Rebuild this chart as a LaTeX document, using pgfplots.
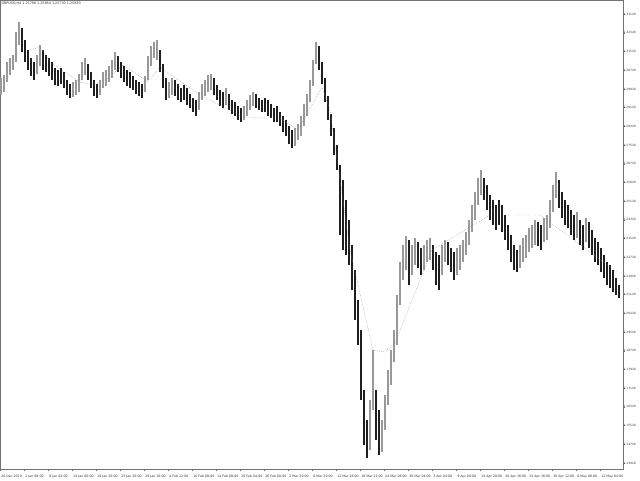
\documentclass[border=0pt]{standalone}
\usepackage{pgfplots}
\usepackage{pgfplotstable}
\usepackage{fontspec}
\setmainfont{DejaVu Sans}
\pgfplotsset{compat=1.18}

\pgfplotstableread{
x hi lo c
1 1.3039 1.2966 0
4 1.3052 1.2979 0
7 1.3107 1.3022 0
10 1.3125 1.3052 0
13 1.3137 1.3073 0
16 1.3236 1.3107 0
19 1.3279 1.3180 0
22 1.3253 1.3150 1
25 1.3202 1.3107 1
28 1.3159 1.3073 1
31 1.3125 1.3048 1
34 1.3107 1.3030 1
37 1.3137 1.3056 0
40 1.3180 1.3090 0
43 1.3159 1.3073 1
46 1.3137 1.3065 1
49 1.3125 1.3048 1
52 1.3107 1.3030 1
55 1.3082 1.3009 1
58 1.3073 1.3005 1
61 1.3082 1.3013 1
64 1.3065 1.2996 1
67 1.3030 1.2966 1
70 1.3013 1.2954 1
73 1.3022 1.2958 0
76 1.3030 1.2966 0
79 1.3056 1.2979 0
82 1.3107 1.3030 0
85 1.3125 1.3052 0
88 1.3099 1.3030 1
91 1.3065 1.2996 1
94 1.3030 1.2962 1
97 1.3013 1.2954 1
100 1.3030 1.2966 0
103 1.3065 1.2996 0
106 1.3073 1.3005 0
109 1.3090 1.3022 0
112 1.3116 1.3039 0
115 1.3150 1.3073 0
118 1.3133 1.3065 1
121 1.3107 1.3039 1
124 1.3090 1.3022 1
127 1.3073 1.3005 1
130 1.3065 1.2996 1
133 1.3048 1.2988 1
136 1.3030 1.2971 1
139 1.3022 1.2962 1
142 1.3013 1.2954 1
145 1.3048 1.2979 0
148 1.3133 1.3030 0
151 1.3176 1.3090 0
154 1.3193 1.3125 0
157 1.3202 1.3116 0
160 1.3159 1.3065 1
163 1.3099 1.2996 1
166 1.3039 1.2945 1
169 1.3022 1.2954 0
172 1.3039 1.2966 0
175 1.3030 1.2962 1
178 1.3013 1.2945 1
181 1.2996 1.2936 1
184 1.3009 1.2945 1
187 1.2996 1.2924 1
190 1.2971 1.2911 1
193 1.2954 1.2894 1
196 1.2945 1.2876 1
199 1.2979 1.2902 0
202 1.3013 1.2945 0
205 1.3030 1.2962 0
208 1.3052 1.2979 0
211 1.3056 1.2988 0
214 1.3039 1.2966 1
217 1.3009 1.2945 1
220 1.2988 1.2919 1
223 1.2979 1.2911 1
226 1.2996 1.2924 0
229 1.2971 1.2902 1
232 1.2945 1.2885 1
235 1.2936 1.2876 1
238 1.2919 1.2859 1
241 1.2911 1.2851 1
244 1.2919 1.2859 0
247 1.2945 1.2876 0
250 1.2966 1.2902 0
253 1.2979 1.2919 0
256 1.2971 1.2911 1
259 1.2954 1.2902 1
262 1.2945 1.2894 1
265 1.2954 1.2894 1
268 1.2945 1.2876 1
271 1.2928 1.2868 1
274 1.2911 1.2851 1
277 1.2919 1.2851 1
280 1.2894 1.2834 1
283 1.2876 1.2808 1
286 1.2859 1.2791 1
289 1.2834 1.2756 1
292 1.2817 1.2740 1
295 1.2825 1.2748 0
298 1.2842 1.2774 0
301 1.2876 1.2791 0
304 1.2928 1.2834 0
307 1.2971 1.2876 0
310 1.3030 1.2936 0
313 1.3116 1.3005 0
316 1.3193 1.3099 0
319 1.3176 1.3073 1
322 1.3107 1.3013 1
325 1.3039 1.2936 1
328 1.2962 1.2859 1
331 1.2885 1.2791 1
334 1.2825 1.2710 1
337 1.2752 1.2645 1
340 1.2667 1.2367 1
343 1.2602 1.2303 1
346 1.2517 1.2282 1
349 1.2431 1.2239 1
352 1.2325 1.2132 1
355 1.2218 1.2003 1
358 1.2089 1.1897 1
361 1.1961 1.1662 1
364 1.1704 1.1469 1
367 1.1576 1.1413 1
370 1.1662 1.1448 0
373 1.1875 1.1619 0
376 1.1704 1.1490 1
379 1.1619 1.1426 1
382 1.1576 1.1439 0
385 1.1683 1.1533 0
388 1.1790 1.1640 0
391 1.1875 1.1726 0
394 1.1961 1.1824 0
397 1.2111 1.1897 0
400 1.2251 1.2068 0
403 1.2325 1.2174 0
406 1.2363 1.2218 0
409 1.2346 1.2154 1
412 1.2325 1.2196 0
415 1.2355 1.2239 0
418 1.2337 1.2226 1
421 1.2312 1.2196 1
424 1.2325 1.2218 0
427 1.2346 1.2251 0
430 1.2355 1.2260 0
433 1.2325 1.2218 1
436 1.2295 1.2154 1
439 1.2282 1.2132 1
442 1.2325 1.2196 0
445 1.2346 1.2251 0
448 1.2337 1.2239 1
451 1.2312 1.2209 1
454 1.2295 1.2174 1
457 1.2312 1.2196 0
460 1.2325 1.2218 0
463 1.2346 1.2251 0
466 1.2380 1.2282 0
469 1.2431 1.2325 0
472 1.2496 1.2380 0
475 1.2551 1.2431 0
478 1.2611 1.2496 0
481 1.2645 1.2539 0
484 1.2611 1.2517 1
487 1.2581 1.2474 1
490 1.2539 1.2431 1
493 1.2517 1.2410 1
496 1.2496 1.2389 1
499 1.2517 1.2410 1
502 1.2496 1.2380 1
505 1.2453 1.2346 1
508 1.2410 1.2303 1
511 1.2367 1.2251 1
514 1.2325 1.2218 1
517 1.2303 1.2209 1
520 1.2325 1.2226 0
523 1.2355 1.2251 0
526 1.2367 1.2269 0
529 1.2397 1.2295 0
532 1.2410 1.2312 0
535 1.2431 1.2325 0
538 1.2423 1.2320 1
541 1.2410 1.2303 1
544 1.2440 1.2337 0
547 1.2453 1.2346 0
550 1.2517 1.2397 0
553 1.2581 1.2466 0
556 1.2637 1.2526 0
559 1.2602 1.2483 1
562 1.2551 1.2440 1
565 1.2517 1.2410 1
568 1.2496 1.2397 1
571 1.2474 1.2367 1
574 1.2453 1.2346 1
577 1.2466 1.2355 0
580 1.2431 1.2325 1
583 1.2410 1.2303 1
586 1.2440 1.2337 0
589 1.2423 1.2312 1
592 1.2389 1.2282 1
595 1.2355 1.2251 1
598 1.2337 1.2239 1
601 1.2312 1.2209 1
604 1.2282 1.2183 1
607 1.2251 1.2154 1
610 1.2239 1.2141 1
613 1.2218 1.2124 1
616 1.2183 1.2111 1
619 1.2154 1.2098 1
}\bars

\pgfplotstableread{
x p
30 1.3159
40 1.3172
50 1.3107
80 1.3022
95 1.3009
108 1.3039
123 1.3095
148 1.3022
160 1.3086
200 1.2966
245 1.2868
280 1.2868
298 1.2817
322 1.3001
330 1.2902
350 1.2303
373 1.1875
385 1.1867
395 1.1905
432 1.2303
490 1.2453
540 1.2453
617 1.2209
}\zz

\begin{document}
\begin{tikzpicture}
\begin{axis}[
  at={(0pt,360pt)}, anchor=north west,
  scale only axis, width=467.25pt, height=351.75pt,
  xmin=0, xmax=623, ymin=1.13663, ymax=1.33727,
  axis line style={draw=black!55, line width=0.4pt},
  tick align=outside, major tick length=1.8pt,
  tick style={draw=black!55, line width=0.3pt},
  ytick pos=right, yticklabel pos=right,
  xtick pos=bottom,
  ytick={1.1392,1.1472,1.1552,1.1632,1.1712,1.1792,1.1872,1.1952,1.2032,1.2112,1.2192,1.2272,1.2352,1.2432,1.2512,1.2592,1.2672,1.2752,1.2832,1.2912,1.2992,1.3072,1.3152,1.3232,1.3312},
  yticklabels={1.13920,1.14720,1.15520,1.16320,1.17120,1.17920,1.18720,1.19520,1.20320,1.21120,1.21920,1.22720,1.23520,1.24320,1.25120,1.25920,1.26720,1.27520,1.28320,1.29120,1.29920,1.30720,1.31520,1.32320,1.33120},
  xtick={0,24,...,600},
  xticklabels={26 Dec 2019,2 Jan 08:00,8 Jan 04:00,14 Jan 00:00,19 Jan 20:00,23 Jan 20:00,29 Jan 16:00,4 Feb 12:00,10 Feb 08:00,14 Feb 08:00,20 Feb 04:00,26 Feb 00:00,2 Mar 20:00,6 Mar 20:00,12 Mar 16:00,18 Mar 12:00,24 Mar 08:00,30 Mar 04:00,3 Apr 04:00,9 Apr 00:00,14 Apr 20:00,20 Apr 16:00,24 Apr 16:00,30 Apr 12:00,6 May 08:00,12 May 04:00},
  yticklabel style={font=\fontsize{2.2}{3}\selectfont, anchor=west, xshift=-2pt, inner xsep=0.5pt, text=black!80},
  xticklabel style={font=\fontsize{2.4}{3}\selectfont, anchor=north west, xshift=-2.5pt, yshift=1pt, text=black!80},
]
\addplot[draw=none, mark=none, restrict expr to domain={\thisrow{c}}{0:0},
  error bars/.cd, y dir=plus, y explicit, error mark=none,
  error bar style={draw=black!40, line width=2.0pt}]
  table[x=x, y=lo, y error plus expr=\thisrow{hi}-\thisrow{lo}] {\bars};
\addplot[draw=none, mark=none, restrict expr to domain={\thisrow{c}}{1:1},
  error bars/.cd, y dir=plus, y explicit, error mark=none,
  error bar style={draw=black!88, line width=2.0pt}]
  table[x=x, y=lo, y error plus expr=\thisrow{hi}-\thisrow{lo}] {\bars};
\addplot[color=black!50, densely dotted, line width=0.35pt] table[x=x, y=p] {\zz};
\node[anchor=north west, font=\fontsize{2.5}{3}\selectfont, inner sep=1pt, text=black!80] at (rel axis cs:0,1) {GBPUSD,H4 1.25790 1.25884 1.25730 1.25830};
\end{axis}
\pgfresetboundingbox
\path (0pt,0pt) rectangle (480pt,360pt);
\end{tikzpicture}
\end{document}
